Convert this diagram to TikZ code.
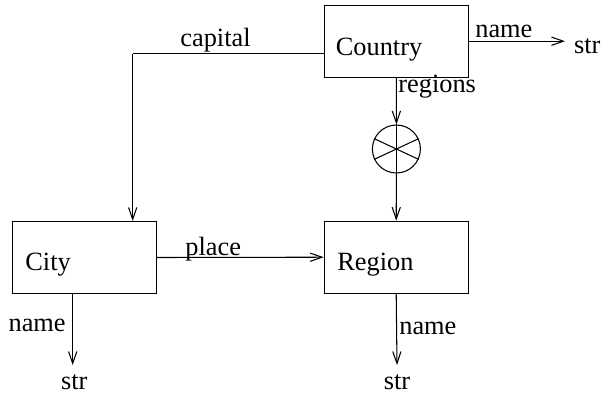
\documentclass[tikz,border=0pt]{standalone}
\usepackage{fontspec}
\setmainfont{Liberation Serif}
\usetikzlibrary{arrows.meta,positioning}

\tikzset{
  cls/.style={draw, line width=0.6pt, minimum width=2.88cm, minimum height=1.44cm, inner sep=0pt},
  lbl/.style={inner sep=0pt},
  strl/.style={inner sep=5pt},
  xcirc/.style={draw, circle, line width=0.6pt, minimum size=0.96cm, inner sep=0pt},
  arr/.style={line width=0.6pt, -{Straight Barb[length=6.8pt,width=4.7pt]}}
}

\begin{document}
\begin{tikzpicture}[x=0.02cm, y=-0.02cm, font=\fontsize{15}{18}\selectfont]
\useasboundingbox (0,0) rectangle (605,393);

% the boxes
\node[cls] (country) at (396.3,41.2) {};
\node[lbl, anchor=base west] (countrytxt) at (335.5,55) {Country};
\node[cls] (city) at (84.5,257.5) {};
\node[lbl, anchor=base west] (citytxt) at (25,270) {City};
\node[cls] (region) at (396.2,257.2) {};
\node[lbl, anchor=base west] (regiontxt) at (337,270) {Region};

% the set symbol
\node[xcirc] (setof) at (396.4,149) {};
\draw[line width=0.6pt] (setof.155) -- (setof.-25);
\draw[line width=0.6pt] (setof.25) -- (setof.205);
\draw[line width=0.6pt] (setof.north) -- (setof.south);

% the strings
\node[strl, anchor=base west] (countrystr) at (565,53) {str};
\node[strl, anchor=base] (citystr) at (74.2,389) {str};
\node[strl, anchor=base] (regionstr) at (397,389) {str};

% the arrows
\coordinate (capbend) at (132.7,53.5);
\coordinate (cityfoot) at (72.7,293.3);
\draw[line width=0.6pt] (country.west |- capbend) -- (capbend);
\draw[arr] (capbend) -- (city.north -| capbend);
\draw[arr] (country.east) -- (country.east -| countrystr.west);
\draw[arr] (country.south) -- (setof.north);
\draw[arr] (setof.south) -- (region.north);
\draw[arr] (city.east) -- (region.west);
\draw[arr] (cityfoot) -- (citystr.north -| cityfoot);
\draw[arr] (region.south) -- (regionstr.north);

% labels
\node[lbl, anchor=base west] (capitallbl) at (180,46) {capital};
\node[lbl, anchor=base west] (cnamelbl) at (475,37) {name};
\node[lbl, anchor=base west] (regionslbl) at (398,92) {regions};
\node[lbl, anchor=base west] (placelbl) at (185,255) {place};
\node[lbl, anchor=base east] (citynamelbl) at (66,331.7) {name};
\node[lbl, anchor=base west] (rnamelbl) at (399,334) {name};

\end{tikzpicture}
\end{document}
